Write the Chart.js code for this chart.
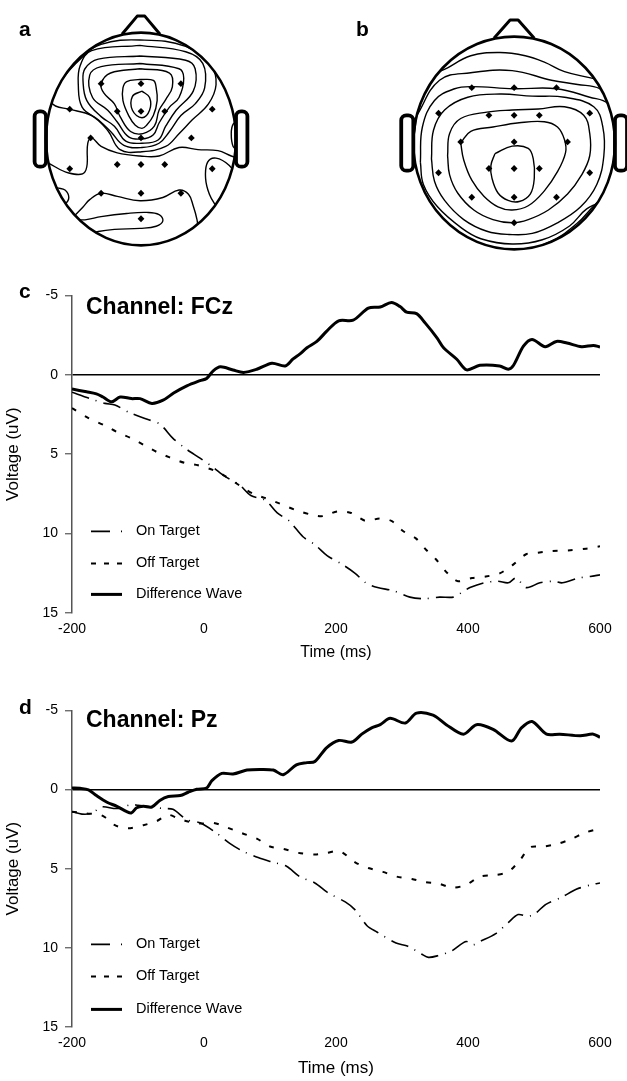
<!DOCTYPE html>
<html><head><meta charset="utf-8">
<script src="https://cdn.jsdelivr.net/npm/chart.js@4/dist/chart.umd.min.js"></script>
<style>
html,body{margin:0;padding:0;background:#fff;overflow:hidden;width:627px;height:1081px;}
canvas{position:absolute;}
.lbl{position:absolute;font-family:"Liberation Sans",Arial,sans-serif;font-weight:bold;color:#000;line-height:1;white-space:nowrap;}
</style></head><body>
<canvas id="ta" width="274" height="258" style="left:4px;top:2px"></canvas>
<canvas id="tb" width="258" height="258" style="left:369px;top:6px"></canvas>
<canvas id="cc" width="627" height="390" style="left:0;top:280px"></canvas>
<canvas id="cd" width="627" height="386" style="left:0;top:695px"></canvas>
<div class="lbl" style="left:19px;top:18px;font-size:21px">a</div>
<div class="lbl" style="left:356px;top:18px;font-size:21px">b</div>
<div class="lbl" style="left:19px;top:280px;font-size:21px">c</div>
<div class="lbl" style="left:19px;top:696px;font-size:21px">d</div>
<div class="lbl" style="left:86px;top:295px;font-size:23px">Channel: FCz</div>
<div class="lbl" style="left:86px;top:708px;font-size:23px">Channel: Pz</div>
<script>
// ---------- ERP data (time in ms, voltage in uV) ----------
const xTicks = [-200, 0, 200, 400, 600];
const yTicks = [-5, 0, 5, 10, 15];
const seriesNames = ['On Target', 'Off Target', 'Difference Wave'];

const cOnT = [-200,-173,-150,-135,-112,-86,-67,-47,-26,-6,13,32,53,71,93,111,129,150,168,187,208,229,245,263,287,312,333,357,378,391,403,424,445,461,473,488,509,530,543,567,585,600];
const cOnV = [1.1,1.5,1.8,1.9,2.4,2.8,3.1,4.0,4.7,5.25,5.8,6.4,6.9,7.6,7.9,8.7,9.2,10.2,10.7,11.4,11.9,12.5,13.1,13.4,13.6,14.0,14.1,14.0,14.0,13.7,13.4,13.1,13.0,13.1,12.8,13.4,13.1,13.0,13.1,12.8,12.7,12.6];
const cOffT = [-200,-175,-150,-132,-110,-92,-72,-52,-29,-9,14,29,55,75,92,114,138,162,180,202,223,245,266,284,302,321,336,351,369,385,406,427,448,467,488,506,527,555,579,600];
const cOffV = [2.1,2.73,3.2,3.6,4.0,4.4,4.85,5.2,5.55,5.7,6.0,6.3,7.0,7.5,7.75,8.1,8.5,8.8,8.9,8.6,8.7,9.2,9.05,9.2,9.85,10.3,11.0,11.6,12.5,13.0,12.8,12.7,12.5,12.0,11.3,11.2,11.1,11.05,10.95,10.8];
const cDiffT = [-200,-178,-163,-153,-140,-127,-110,-97,-79,-62,-46,-26,-6,4,14,25,44,60,80,103,123,135,145,156,171,186,204,226,249,267,284,297,307,322,335,353,363,383,398,418,448,461,469,484,497,517,534,550,572,590,600];
const cDiffV = [0.9,1.07,1.2,1.4,1.7,1.4,1.5,1.5,1.8,1.6,1.15,0.7,0.37,0.23,-0.25,-0.5,-0.3,-0.15,-0.35,-0.73,-0.56,-1.0,-1.3,-1.7,-2.1,-2.75,-3.4,-3.44,-4.2,-4.27,-4.56,-4.3,-3.94,-3.85,-3.27,-2.33,-1.7,-0.98,-0.31,-0.6,-0.56,-0.35,-0.6,-1.8,-2.23,-1.77,-2.1,-2.0,-1.77,-1.85,-1.75];

const dOnT = [-200,-185,-170,-155,-132,-110,-100,-80,-62,-47,-26,-6,19,39,59,82,105,125,145,168,187,214,229,247,262,291,309,330,340,354,375,397,408,418,442,461,476,490,500,518,542,564,588,600];
const dOnV = [1.4,1.55,1.5,1.1,1.2,0.95,1.0,1.1,1.2,1.25,1.9,2.1,2.75,3.4,3.9,4.3,4.6,4.85,5.5,5.9,6.5,7.1,7.6,8.6,9.0,9.7,9.9,10.4,10.6,10.5,10.2,9.6,9.8,9.6,9.1,8.4,7.9,8.0,7.9,7.25,6.8,6.3,6.0,5.9];
const dOffT = [-200,-180,-157,-150,-135,-115,-92,-72,-55,-40,-26,-6,14,35,57,80,100,120,143,168,186,206,229,249,271,292,315,335,355,377,398,418,441,461,479,494,514,535,555,577,600];
const dOffV = [1.4,1.5,1.6,1.75,2.25,2.45,2.25,2.0,1.6,1.8,2.0,2.15,2.1,2.4,2.75,3.1,3.6,3.75,4.0,4.1,4.0,3.9,4.6,4.96,5.2,5.5,5.65,5.85,5.94,6.2,6.0,5.5,5.4,5.2,4.44,3.65,3.6,3.44,3.15,2.73,2.46];
const dDiffT = [-200,-188,-175,-163,-147,-132,-117,-110,-102,-92,-79,-67,-54,-36,-24,-11,4,12,27,44,65,85,105,120,140,156,168,186,204,224,239,254,267,282,305,322,347,367,393,413,438,466,481,497,519,539,570,590,600];
const dDiffV = [-0.1,-0.08,0.02,0.38,0.8,1.06,1.4,1.48,1.15,1.06,1.1,0.69,0.44,0.38,0.17,-0.02,-0.1,-0.56,-1.02,-0.98,-1.23,-1.27,-1.23,-0.94,-1.56,-1.7,-1.77,-2.65,-3.1,-3.0,-3.5,-3.9,-4.1,-4.5,-4.2,-4.83,-4.7,-4.1,-3.5,-4.1,-3.8,-3.06,-3.9,-4.3,-3.5,-3.5,-3.4,-3.5,-3.3];

// ---------- Topographic maps (normalized head coordinates) ----------
const elecX = [-0.42,0,0.42,-0.75,-0.25,0,0.25,0.75,-0.53,0,0.53,-0.75,-0.25,0,0.25,0.75,-0.42,0,0.42,0];
const elecY = [0.52,0.52,0.52,0.28,0.26,0.26,0.26,0.28,0.01,0.01,0.01,-0.28,-0.24,-0.24,-0.24,-0.28,-0.51,-0.51,-0.51,-0.75];

const topoA1 = [[0.01,0.45],[0.09,0.39],[0.09,0.27],[0.01,0.20],[-0.09,0.27],[-0.09,0.40],[0.01,0.45]];
const topoA2 = [[-0.01,0.56],[0.13,0.55],[0.16,0.48],[0.17,0.36],[0.13,0.22],[0.06,0.13],[0.01,0.10],[-0.06,0.13],[-0.13,0.22],[-0.19,0.36],[-0.19,0.48],[-0.15,0.54],[-0.01,0.56]];
const topoA3 = [[-0.01,0.66],[0.30,0.62],[0.33,0.49],[0.26,0.37],[0.19,0.27],[0.14,0.12],[0.02,0.05],[-0.11,0.07],[-0.22,0.21],[-0.28,0.33],[-0.39,0.43],[-0.42,0.52],[-0.32,0.62],[-0.01,0.66]];
const topoA4 = [[-0.01,0.71],[0.40,0.66],[0.45,0.57],[0.40,0.39],[0.30,0.30],[0.19,0.15],[0.13,0.04],[0.01,0.00],[-0.13,0.02],[-0.25,0.16],[-0.35,0.27],[-0.51,0.39],[-0.54,0.60],[-0.42,0.68],[-0.01,0.71]];
const topoA5 = [[-0.01,0.78],[0.47,0.74],[0.57,0.66],[0.55,0.45],[0.37,0.27],[0.26,0.12],[0.18,-0.01],[0.01,-0.04],[-0.16,-0.02],[-0.28,0.12],[-0.42,0.21],[-0.57,0.36],[-0.61,0.54],[-0.59,0.66],[-0.45,0.75],[-0.01,0.78]];
const topoA6 = [[-0.01,0.88],[0.47,0.82],[0.65,0.71],[0.67,0.48],[0.57,0.33],[0.42,0.22],[0.30,0.07],[0.19,-0.04],[0.01,-0.08],[-0.18,-0.06],[-0.32,0.07],[-0.45,0.18],[-0.62,0.30],[-0.66,0.51],[-0.64,0.69],[-0.52,0.83],[-0.01,0.88]];
const topoA7 = [[-0.97,0.36],[-0.85,0.54],[-0.64,0.75],[-0.42,0.89],[-0.01,0.93],[0.47,0.87],[0.74,0.68],[0.79,0.51],[0.71,0.33],[0.54,0.18],[0.40,0.05],[0.26,-0.07],[0.01,-0.12],[-0.22,-0.10],[-0.35,0.08],[-0.52,0.22],[-0.76,0.28],[-0.90,0.31],[-0.97,0.36]];
const topoA8 = [[-1.05,-0.20],[-0.99,-0.22],[-0.76,-0.32],[-0.59,-0.31],[-0.56,-0.04],[-0.52,0.01],[-0.42,-0.07],[-0.25,-0.13],[-0.01,-0.16],[0.19,-0.16],[0.40,-0.08],[0.60,-0.10],[0.81,-0.11],[0.95,-0.16],[1.05,-0.19]];
const topoA9 = [[1.05,-0.40],[0.93,-0.25],[0.79,-0.18],[0.70,-0.22],[0.68,-0.37],[0.72,-0.52],[0.79,-0.63],[0.85,-0.70]];
const topoA10 = [[-0.95,-0.44],[-0.88,-0.46],[-0.80,-0.48],[-0.76,-0.55],[-0.80,-0.61],[-0.90,-0.64]];
const topoA11 = [[-0.80,-0.80],[-0.71,-0.73],[-0.61,-0.64],[-0.54,-0.57],[-0.42,-0.51],[-0.25,-0.54],[-0.01,-0.58],[0.23,-0.55],[0.40,-0.48],[0.50,-0.52],[0.55,-0.63],[0.59,-0.76],[0.60,-0.85],[0.60,-0.95]];
const topoA12 = [[-0.70,-0.75],[-0.59,-0.76],[-0.42,-0.73],[-0.15,-0.70],[0.06,-0.69],[0.19,-0.71],[0.23,-0.77],[0.16,-0.82],[-0.01,-0.84],[-0.28,-0.85],[-0.45,-0.87],[-0.55,-0.90]];
const topoA13 = [[1.02,0.16],[0.97,0.14],[0.95,0.05],[0.97,-0.07],[1.02,-0.10]];

const topoB1 = [[-0.19,-0.10],[-0.02,-0.03],[0.14,-0.05],[0.19,-0.15],[0.20,-0.33],[0.16,-0.48],[0.05,-0.55],[-0.06,-0.54],[-0.16,-0.47],[-0.22,-0.33],[-0.23,-0.21],[-0.19,-0.10]];
const topoB2 = [[-0.53,0.00],[-0.43,0.11],[-0.21,0.15],[0.05,0.19],[0.30,0.20],[0.43,0.15],[0.50,0.03],[0.51,-0.09],[0.43,-0.27],[0.30,-0.45],[0.14,-0.59],[-0.02,-0.63],[-0.16,-0.60],[-0.30,-0.50],[-0.42,-0.35],[-0.50,-0.16],[-0.53,0.00]];
const topoB3 = [[-0.66,-0.12],[-0.64,0.09],[-0.53,0.23],[-0.27,0.29],[-0.02,0.31],[0.24,0.32],[0.50,0.34],[0.69,0.26],[0.75,0.09],[0.75,-0.12],[0.67,-0.30],[0.53,-0.48],[0.34,-0.63],[0.14,-0.72],[-0.02,-0.75],[-0.21,-0.72],[-0.40,-0.63],[-0.56,-0.47],[-0.64,-0.30],[-0.66,-0.12]];
const topoB4 = [[-0.82,-0.15],[-0.80,0.12],[-0.69,0.31],[-0.46,0.43],[-0.14,0.46],[0.18,0.44],[0.50,0.43],[0.79,0.34],[0.88,0.15],[0.89,-0.12],[0.82,-0.39],[0.66,-0.60],[0.43,-0.75],[0.18,-0.85],[-0.05,-0.86],[-0.27,-0.83],[-0.50,-0.72],[-0.69,-0.54],[-0.79,-0.36],[-0.82,-0.15]];
const topoB5 = [[-0.93,-0.18],[-0.91,0.15],[-0.79,0.40],[-0.59,0.51],[-0.42,0.53],[-0.01,0.51],[0.42,0.51],[0.75,0.43],[0.93,0.37],[1.11,0.09],[1.04,-0.45],[0.72,-0.62],[0.55,-0.78],[0.28,-0.91],[-0.02,-0.95],[-0.33,-0.90],[-0.52,-0.80],[-0.76,-0.60],[-0.90,-0.39],[-0.93,-0.18]];
const topoB6 = [[-0.97,0.25],[-0.74,0.59],[-0.43,0.66],[-0.02,0.68],[0.37,0.59],[0.63,0.55],[0.85,0.51],[1.15,0.30],[1.05,-0.35],[0.80,-0.58],[0.62,-0.76],[0.35,-0.93],[-0.10,-1.05],[-0.50,-0.95],[-0.85,-0.60],[-1.00,-0.20],[-0.97,0.25]];
const topoB7 = [[-0.95,0.62],[-0.72,0.68],[-0.43,0.82],[-0.14,0.85],[0.11,0.82],[0.30,0.76],[0.50,0.67],[0.77,0.61],[0.98,0.56]];

// ---------- helpers ----------
const FONT = '"Liberation Sans", Arial, sans-serif';
Chart.defaults.font.family = FONT;
Chart.defaults.color = '#000';
const pairs = (t, v) => t.map((x, i) => ({ x, y: v[i] }));

const headPlugin = {
  id: 'head',
  beforeDatasetsDraw(chart) {
    const { ctx, scales: { x, y } } = chart;
    const cx = x.getPixelForValue(0), cy = y.getPixelForValue(0);
    ctx.save();
    ctx.beginPath();
    ctx.ellipse(cx, cy, x.getPixelForValue(1) - cx, cy - y.getPixelForValue(1), 0, 0, Math.PI * 2);
    ctx.clip();
  },
  afterDatasetsDraw(chart, args, o) {
    const { ctx, scales: { x, y } } = chart;
    ctx.restore();
    const px = v => x.getPixelForValue(v), py = v => y.getPixelForValue(v);
    ctx.save();
    ctx.strokeStyle = '#000';
    ctx.lineJoin = 'round';
    ctx.lineWidth = o.headWidth;
    ctx.beginPath();
    ctx.ellipse(px(0), py(0), px(1) - px(0), py(0) - py(1), 0, 0, Math.PI * 2);
    ctx.stroke();
    ctx.lineWidth = o.noseWidth;
    ctx.beginPath();
    ctx.moveTo(px(-o.noseHalf), py(o.noseBase));
    ctx.lineTo(px(-o.noseTip), py(o.noseTop));
    ctx.lineTo(px(o.noseTip), py(o.noseTop));
    ctx.lineTo(px(o.noseHalf), py(o.noseBase));
    ctx.stroke();
    ctx.lineWidth = o.earWidth;
    [-1, 1].forEach(s => {
      const xa = px(s * o.earIn), xb = px(s * o.earOut);
      ctx.beginPath();
      ctx.roundRect(Math.min(xa, xb), py(o.earHalf), Math.abs(xb - xa), py(-o.earHalf) - py(o.earHalf), o.earRadius);
      ctx.stroke();
    });
    ctx.restore();
  }
};

function topoChart(id, contours, xr, yr) {
  const ds = contours.map(c => ({
    data: c.map(p => ({ x: p[0], y: p[1] })),
    showLine: true, borderColor: '#000', borderWidth: 1.4, pointRadius: 0, tension: 0.4, fill: false
  }));
  ds.push({
    data: elecX.map((v, i) => ({ x: v, y: elecY[i] })),
    pointStyle: 'rectRot', pointRadius: 3.4, backgroundColor: '#000', borderColor: '#000', borderWidth: 0
  });
  return new Chart(document.getElementById(id), {
    type: 'scatter',
    data: { datasets: ds },
    options: {
      responsive: false, animation: false, events: [],
      layout: { padding: 0 },
      plugins: {
        legend: { display: false }, tooltip: { enabled: false },
        head: { headWidth: 2.6, noseWidth: 3, noseHalf: 0.2, noseBase: 0.985, noseTip: 0.04, noseTop: 1.155,
                earWidth: 3.8, earIn: 1.0, earOut: 1.12, earHalf: 0.26, earRadius: 5 }
      },
      scales: {
        x: { type: 'linear', display: false, min: xr[0], max: xr[1] },
        y: { type: 'linear', display: false, min: yr[0], max: yr[1] }
      }
    },
    plugins: [headPlugin]
  });
}

topoChart('ta', [topoA1, topoA2, topoA3, topoA4, topoA5, topoA6, topoA7, topoA8, topoA9, topoA10, topoA11, topoA12, topoA13], [-1.4, 1.4], [-1.1, 1.25]);
topoChart('tb', [topoB1, topoB2, topoB3, topoB4, topoB5, topoB6, topoB7], [-1.4, 1.08], [-1.1, 1.25]);

const erpLegend = {
  id: 'erpLegend',
  afterDraw(chart, args, o) {
    const { ctx, chartArea } = chart;
    const x0 = chartArea.left + o.sampleX, x1 = x0 + o.sampleW;
    chart.data.datasets.forEach((ds, i) => {
      const yy = chartArea.top + o.rows[i];
      ctx.save();
      ctx.strokeStyle = '#000';
      ctx.lineWidth = ds.borderWidth;
      ctx.setLineDash(o.dashes[i]);
      ctx.beginPath(); ctx.moveTo(x0, yy); ctx.lineTo(x1, yy); ctx.stroke();
      ctx.setLineDash([]);
      ctx.fillStyle = '#000';
      ctx.font = o.font;
      ctx.textBaseline = 'middle';
      ctx.fillText(ds.label, chartArea.left + o.textX, yy);
      ctx.restore();
    });
  }
};

function erpChart(id, on, off, diff, geo) {
  return new Chart(document.getElementById(id), {
    type: 'line',
    data: {
      datasets: [
        { label: seriesNames[0], data: on, borderColor: '#000', borderWidth: 1.6, borderDash: [18, 7, 1, 7], pointRadius: 0, tension: 0.3, fill: false },
        { label: seriesNames[1], data: off, borderColor: '#000', borderWidth: 2, borderDash: [5, 10], pointRadius: 0, tension: 0.3, fill: false },
        { label: seriesNames[2], data: diff, borderColor: '#000', borderWidth: 3, pointRadius: 0, tension: 0.3, fill: false }
      ]
    },
    options: {
      responsive: false, animation: false, events: [],
      layout: { padding: { top: 14, right: 27, left: 0, bottom: 0 } },
      plugins: {
        legend: { display: false }, tooltip: { enabled: false },
        erpLegend: { sampleX: 19, sampleW: 31, textX: 64, rows: geo.rows, font: '14.5px ' + FONT,
                     dashes: [[19, 11, 2, 100], [5, 8], []] }
      },
      scales: {
        x: {
          type: 'linear', min: xTicks[0], max: xTicks[xTicks.length - 1],
          afterBuildTicks: s => { s.ticks = xTicks.map(v => ({ value: v })); },
          ticks: { padding: 7.5, font: { size: 14 }, color: '#000' },
          grid: { display: false, drawTicks: false },
          border: { display: false },
          title: { display: true, text: 'Time (ms)', font: { size: geo.xTitleSize }, padding: { top: 0, bottom: geo.xTitlePad } },
          afterFit: s => { s.height = geo.xHeight; }
        },
        y: {
          type: 'linear', min: yTicks[0], max: yTicks[yTicks.length - 1], reverse: true,
          afterBuildTicks: s => { s.ticks = yTicks.map(v => ({ value: v })); },
          ticks: { padding: 7, font: { size: 14 }, color: '#000' },
          grid: {
            drawOnChartArea: true,
            color: c => (c.tick && c.tick.value === 0) ? '#000' : 'rgba(0,0,0,0)',
            lineWidth: 1.5, tickLength: 7, tickColor: '#555', tickWidth: 1.2
          },
          border: { display: true, color: '#555', width: 1.5 },
          title: { display: true, text: 'Voltage (uV)', font: { size: 17 }, padding: { top: 3.5, bottom: 0 } },
          afterFit: s => { s.width = 72; }
        }
      }
    },
    plugins: [erpLegend]
  });
}

erpChart('cc', pairs(cOnT, cOnV), pairs(cOffT, cOffV), pairs(cDiffT, cDiffV),
  { rows: [236, 268, 299], xTitleSize: 16, xTitlePad: 7.5, xHeight: 57 });
erpChart('cd', pairs(dOnT, dOnV), pairs(dOffT, dOffV), pairs(dDiffT, dDiffV),
  { rows: [234, 266, 299], xTitleSize: 17, xTitlePad: 2.8, xHeight: 54 });
</script>
</body></html>
